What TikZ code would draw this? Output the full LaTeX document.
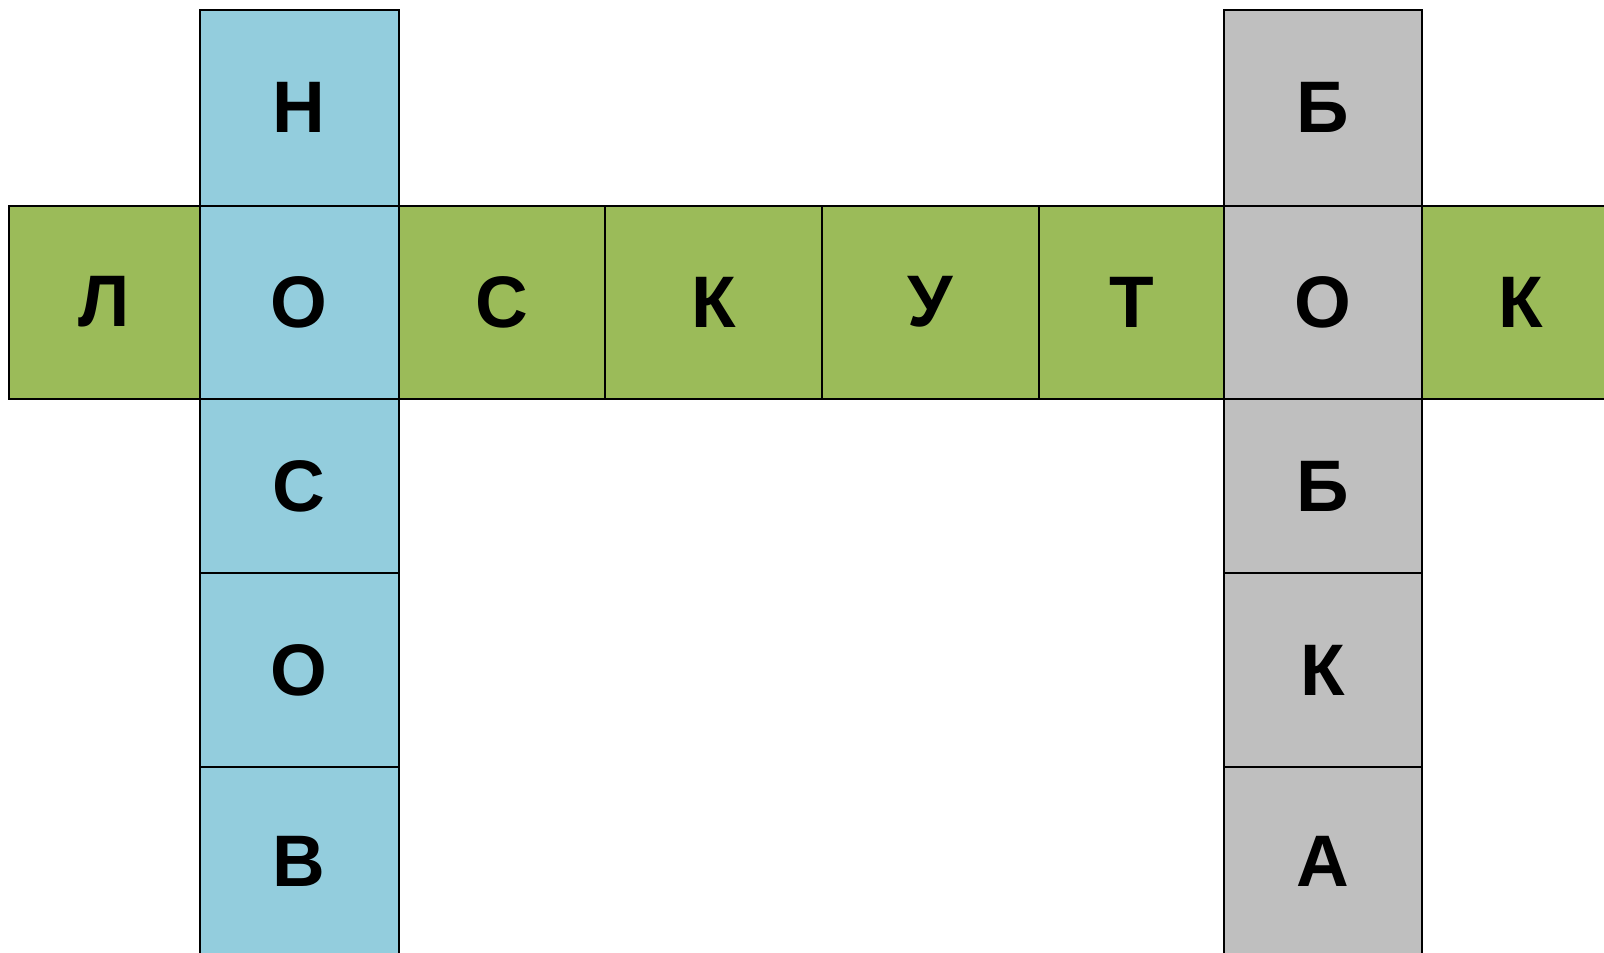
\documentclass[tikz,border=0pt]{standalone}
\usepackage{fontspec}
\setmainfont{Liberation Sans}
\definecolor{cblue}{HTML}{93CDDD}
\definecolor{cgreen}{HTML}{9BBB59}
\definecolor{cgray}{HTML}{BFBFBF}
\tikzset{
  cell/.style={inner sep=0pt, outer sep=0pt,
    font=\fontsize{73}{80}\selectfont\bfseries, text=black, anchor=center},
  bluecell/.style={cell, fill=cblue},
  greencell/.style={cell, fill=cgreen},
  graycell/.style={cell, fill=cgray},
  gridline/.style={draw=black, line width=2pt}
}
\newcommand{\cellbox}[7]{% style, name, x1, y1, x2, y2, text
  \pgfmathsetmacro{\cw}{#5-#3}\pgfmathsetmacro{\ch}{#6-#4}
  \pgfmathsetmacro{\cx}{(#3+#5)/2}\pgfmathsetmacro{\cy}{(#4+#6)/2}
  \node[#1, minimum width=\cw pt, minimum height=\ch pt] (#2) at (\cx,\cy) {#7};
}
\begin{document}
\begin{tikzpicture}[x=1pt,y=-1pt]
\clip (0,0) rectangle (1604,953);
\fill[white] (0,0) rectangle (1604,953);
% green row
\cellbox{greencell}{g1}{9.3}{205.5}{199.5}{398.5}{Л}
\cellbox{greencell}{g3}{398.5}{205.5}{605}{398.5}{С}
\cellbox{greencell}{g4}{605}{205.5}{822}{398.5}{К}
\cellbox{greencell}{g5}{822}{205.5}{1039}{398.5}{У}
\cellbox{greencell}{g6}{1039}{205.5}{1224}{398.5}{Т}
\cellbox{greencell}{g8}{1422}{205.5}{1620}{398.5}{К}
% blue column
\cellbox{bluecell}{b1}{199.5}{9.7}{398.5}{205.5}{Н}
\cellbox{bluecell}{b2}{199.5}{205.5}{398.5}{398.5}{О}
\cellbox{bluecell}{b3}{199.5}{398.5}{398.5}{573.3}{С}
\cellbox{bluecell}{b4}{199.5}{573.3}{398.5}{766.7}{О}
\cellbox{bluecell}{b5}{199.5}{766.7}{398.5}{956}{В}
% gray column
\cellbox{graycell}{r1}{1224}{9.7}{1422}{205.5}{Б}
\cellbox{graycell}{r2}{1224}{205.5}{1422}{398.5}{О}
\cellbox{graycell}{r3}{1224}{398.5}{1422}{573.3}{Б}
\cellbox{graycell}{r4}{1224}{573.3}{1422}{766.7}{К}
\cellbox{graycell}{r5}{1224}{766.7}{1422}{956}{А}
% borders
\foreach \n in {g1,g3,g4,g5,g6,g8,b1,b2,b3,b4,b5,r1,r2,r3,r4,r5}
  \draw[gridline] (\n.north west) rectangle (\n.south east);
\end{tikzpicture}
\end{document}
